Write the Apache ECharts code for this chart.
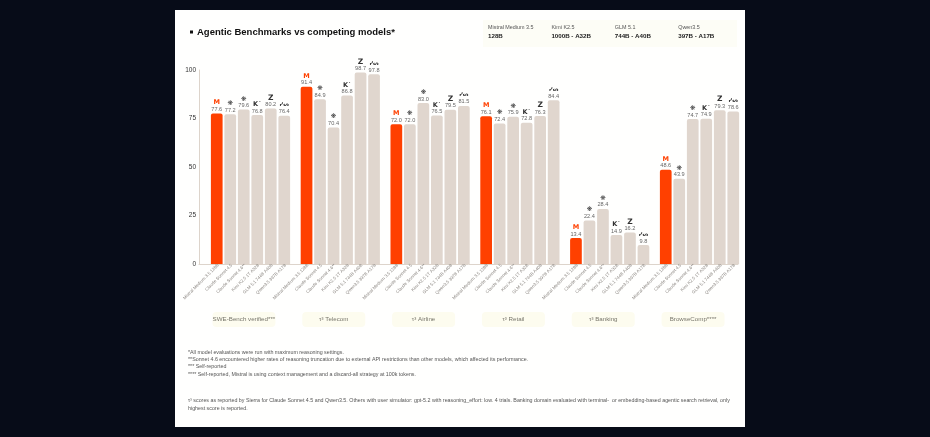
<!DOCTYPE html>
<html><head><meta charset="utf-8">
<style>html,body{margin:0;padding:0;background:#070c18;}#panel{position:absolute;left:175px;top:10px;width:570px;height:417px;background:#fffffe;}#c{position:absolute;left:0;top:0;width:930px;height:437px;}</style>
<script src="https://cdn.jsdelivr.net/npm/echarts@6/dist/echarts.min.js"></script>
</head><body><div id="panel"></div><div id="c"></div>
<script>
const benchmarks = ['SWE-Bench verified***','τ³ Telecom','τ³ Airline','τ³ Retail','τ³ Banking','BrowseComp****'];
const models = ['Mistral Medium 3.5 128B','Claude Sonnet 4.5','Claude Sonnet 4.6**','Kimi K2.5 1T A32B','GLM 5.1 744B A40B','Qwen3.5 397B A17B'];
const mistral = [77.6,91.4,72.0,76.1,13.4,48.6];
const sonnet45 = [77.2,84.9,72.0,72.4,22.4,43.9];
const sonnet46 = [79.6,70.4,83.0,75.9,28.4,74.7];
const kimi = [76.8,86.8,76.5,72.8,14.9,74.9];
const glm = [80.2,98.7,79.5,76.3,16.2,79.3];
const qwen = [76.4,97.8,81.5,84.4,9.8,78.6];
const allValues = [mistral,sonnet45,sonnet46,kimi,glm,qwen];
const icons = ['M','❋','❋','K˙','Z','ᓯᔕ'];
const iconSizes = [6.5,6.5,6.5,6.5,7.5,5];
const yTicks = [0,25,50,75,100];
const headerNames = ['Mistral Medium 3.5','Kimi K2.5','GLM 5.1','Qwen3.5'];
const headerSizes = ['128B','1000B - A32B','744B - A40B','397B - A17B'];
const notes = ['*All model evaluations were run with maximum reasoning settings.',
'**Sonnet 4.6 encountered higher rates of reasoning truncation due to external API restrictions than other models, which affected its performance.',
'*** Self-reported',
'**** Self-reported, Mistral is using context management and a discard-all strategy at 100k tokens.'];
const notes2 = ['τ³ scores as reported by Sierra for Claude Sonnet 4.5 and Qwen3.5. Others with user simulator: gpt-5.2 with reasoning_effort: low. 4 trials. Banking domain evaluated with terminal-  or embedding-based agentic search retrieval, only',
'highest score is reported.'];
const FONT = '"Liberation Sans", Arial, sans-serif';
const ORANGE = '#FF4000', BEIGE = '#E0D6CE';

const chart = echarts.init(document.getElementById('c'), null, {renderer:'canvas'});
const series = [];
allValues.forEach((vals,i)=>{
  series.push({type:'bar',name:models[i],xAxisIndex:0,yAxisIndex:0,data:vals,barWidth:11.7,barGap:'15.4%',
    itemStyle:{color:i===0?ORANGE:BEIGE,borderRadius:[2,2,0,0]},
    label:{show:true,position:'top',distance:0.5,formatter:p=>'{ic|'+icons[i]+'}\n{v|'+p.value.toFixed(1)+'}',
      rich:{ic:{fontFamily:'"DejaVu Sans",'+FONT,fontSize:iconSizes[i],fontWeight:'bold',lineHeight:6.5,align:'center',color:i===0?ORANGE:'#333'},
            v:{fontFamily:FONT,fontSize:5.6,lineHeight:7,align:'center',color:'#666'}}},
    silent:true,animation:false});
});
models.forEach(m=>{
  series.push({type:'bar',name:m+' label',xAxisIndex:1,yAxisIndex:0,data:benchmarks.map(()=>0),barWidth:11.7,barGap:'15.4%',
    itemStyle:{color:'transparent'},
    label:{show:true,position:'bottom',distance:2,offset:[2,0],rotate:45,align:'right',verticalAlign:'middle',formatter:m,fontFamily:FONT,fontSize:4.4,color:'#8a8580'},
    silent:true,animation:false});
});

const graphic = [];
graphic.push({type:'rect',left:190,top:30.5,shape:{width:3,height:3},style:{fill:'#111'}});
graphic.push({type:'text',left:197,top:27,style:{text:'Agentic Benchmarks vs competing models*',font:'bold 9.5px '+FONT,fill:'#111'}});
graphic.push({type:'rect',left:483,top:20,shape:{width:254,height:27},style:{fill:'#FDFDF6'},z:-1});
headerNames.forEach((n,i)=>{
  const x = 488 + i*63.4;
  graphic.push({type:'text',left:x,top:25,style:{text:n,font:'5.4px '+FONT,fill:'#555'}});
  graphic.push({type:'text',left:x,top:33.5,style:{text:headerSizes[i],font:'bold 6.2px '+FONT,fill:'#222'}});
});
notes.forEach((t,i)=>graphic.push({type:'text',left:188,top:349.7+i*7.4,style:{text:t,font:'5.32px '+FONT,fill:'#555'}}));
notes2.forEach((t,i)=>graphic.push({type:'text',left:188,top:398+i*7.7,style:{text:t,font:'5.32px '+FONT,fill:'#555'}}));

chart.setOption({
  animation:false,backgroundColor:'transparent',
  grid:[{left:205.6,top:70,width:538.8,height:194},{left:199,top:70,width:539,height:194}],
  xAxis:[
    {type:'category',gridIndex:0,data:benchmarks,show:false},
    {type:'category',gridIndex:0,data:benchmarks,show:false},
    {type:'category',gridIndex:1,data:benchmarks,axisTick:{show:false},axisLine:{lineStyle:{color:'#DDD4CB',width:1}},
      axisLabel:{interval:0,margin:48,fontFamily:FONT,fontSize:6.2,color:'#77756a',backgroundColor:'#FDFCEF',borderRadius:4,width:63,height:15,lineHeight:15,align:'center',verticalAlign:'top'}}
  ],
  yAxis:[
    {type:'value',gridIndex:0,min:0,max:100,show:false},
    {type:'value',gridIndex:1,min:yTicks[0],max:yTicks[yTicks.length-1],interval:yTicks[1]-yTicks[0],splitLine:{show:false},axisTick:{show:false},
      axisLine:{show:true,lineStyle:{color:'#DDD4CB',width:1}},axisLabel:{margin:3,fontFamily:FONT,fontSize:6.5,color:'#333'}}
  ],
  series,graphic
});
</script></body></html>
